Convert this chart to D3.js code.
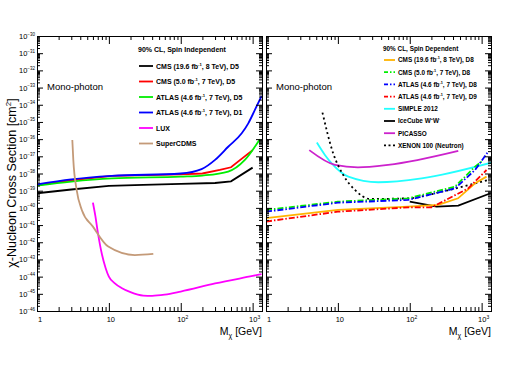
<!DOCTYPE html>
<html><head><meta charset="utf-8">
<script src="https://cdn.jsdelivr.net/npm/d3@7"></script>
<style>body{margin:0;background:#fff}svg{display:block}text{font-family:"Liberation Sans",Arial,sans-serif}</style>
</head><body><div id="c"></div>
<script>
// ---------- data ----------
// Left panel: spin independent
const siCMS196_m = [1, 3, 10, 30, 100, 300, 500, 1000];
const siCMS196_s = [7.1e-40, 1.17e-39, 1.9e-39, 2.2e-39, 2.5e-39, 2.8e-39, 3.5e-39, 2.2e-38];
const siCMS50_m = [1, 3, 11, 100, 200, 350, 500, 1000];
const siCMS50_s = [2.1e-39, 4.0e-39, 7.2e-39, 8.9e-39, 1.0e-38, 1.6e-38, 2.3e-38, 2.3e-37];
const siATLASD5_m = [1, 3, 11, 100, 200, 457, 780, 1260];
const siATLASD5_s = [2.0e-39, 3.4e-39, 5.2e-39, 6.6e-39, 7.6e-39, 1.3e-38, 6.2e-38, 9.8e-37];
const siATLASD1_m = [1, 3, 11, 100, 195, 300, 457, 705, 870, 1075, 1330];
const siATLASD1_s = [2.3e-39, 4.5e-39, 7.2e-39, 1.0e-38, 1.8e-38, 6.2e-38, 3.6e-37, 2.2e-36, 8.3e-36, 5.0e-35, 3.2e-34];
const siLUX_m = [6, 6.5, 7, 8, 9, 10, 12, 15, 20, 30, 40, 60, 100, 300, 1000, 1330];
const siLUX_s = [2.0e-40, 3.2e-41, 4.0e-42, 2.0e-43, 3.2e-44, 1.0e-44, 4.2e-45, 2.2e-45, 1.26e-45, 7.9e-46, 7.6e-46, 8.9e-46, 1.35e-45, 4.0e-45, 1.1e-44, 1.4e-44];
const siCDMS_m = [3.1, 3.2, 3.56, 4.2, 6.0, 9.8, 23, 41.5];
const siCDMS_s = [8.9e-37, 6.2e-38, 1.1e-39, 7.6e-41, 8.1e-42, 5.6e-43, 1.8e-43, 2.1e-43];
// Right panel: spin dependent
const sdCMS196_m = [1, 10, 95, 250, 470, 810, 1170];
const sdCMS196_s = [2.5e-41, 7.6e-41, 1.17e-40, 1.5e-40, 3.6e-40, 2.7e-39, 6.6e-39];
const sdCMS50_m = [1, 10, 95, 425, 810, 1000];
const sdCMS50_s = [7.6e-41, 2.3e-40, 3.6e-40, 1.7e-39, 2.5e-38, 5.0e-38];
const sdATLASD8_m = [1, 10, 95, 425, 810, 1230];
const sdATLASD8_s = [6.0e-41, 2.0e-40, 2.9e-40, 1.35e-39, 1.6e-38, 1.86e-37];
const sdATLASD9_m = [1, 10, 95, 200, 650, 1170];
const sdATLASD9_s = [1.6e-41, 6.0e-41, 1.07e-40, 1.07e-40, 1.35e-39, 1.6e-38];
const sdSIMPLE_m = [5.1, 6.6, 8.2, 14, 36.5, 146, 1380];
const sdSIMPLE_s = [6.3e-37, 1.2e-37, 3.9e-38, 6.6e-39, 3.1e-39, 5.2e-39, 4.3e-38];
const sdIceCube_m = [100, 237, 473, 1330];
const sdIceCube_s = [2.3e-40, 1.17e-40, 1.35e-40, 7.1e-40];
const sdPICASSO_m = [4.0, 9.1, 19, 50, 473];
const sdPICASSO_s = [2.3e-37, 3.2e-38, 2.3e-38, 3.2e-38, 2.1e-37];
const sdXENON_m = [6.1, 8.6, 11.9, 17.3, 28, 95, 278, 1230];
const sdXENON_s = [3.5e-35, 1.5e-37, 8.1e-39, 1.1e-39, 3.3e-40, 3.6e-40, 8.7e-40, 4.2e-39];

const xMajor = [1, 10, 100, 1000];
const xMajorLabels = [["1",""], ["10",""], ["10","2"], ["10","3"]];
const yExponents = d3.range(-46, -29);

// ---------- layout ----------
const W = 512, H = 368;
const yTop = 36, yBot = 311;
const panels = [{x0: 37, x1: 262}, {x0: 266, x1: 491}];
const xDomain = [1, 1350];
const y = d3.scaleLog().domain([1e-46, 1e-30]).range([yBot, yTop]);

const svg = d3.select("#c").append("svg").attr("width", W).attr("height", H);

const xScales = panels.map(p => d3.scaleLog().domain(xDomain).range([p.x0, p.x1]));

// minor ticks
const xMinor = [];
[1, 10, 100].forEach(d => { for (let k = 2; k <= 9; k++) xMinor.push(d * k); });
const yMajor = yExponents.map(e => Math.pow(10, e));
const yMinor = [];
yExponents.slice(0, -1).forEach(e => { for (let k = 2; k <= 9; k++) yMinor.push(k * Math.pow(10, e)); });

panels.forEach((p, i) => {
  const x = xScales[i];
  const g = svg.append("g");
  const clip = "clip" + i;
  svg.append("clipPath").attr("id", clip).append("rect")
    .attr("x", p.x0).attr("y", yTop).attr("width", p.x1 - p.x0).attr("height", yBot - yTop);
  p.g = g.append("g").attr("clip-path", `url(#${clip})`);
  const axes = g.append("g").attr("class", "axes");
  const mk = (axis, tr) => {
    const a = axes.append("g").attr("transform", tr).call(axis);
    a.select(".domain").remove();
    a.selectAll("text").remove();
    a.selectAll("line").attr("stroke", "#000").attr("stroke-width", 1);
  };
  mk(d3.axisBottom(x).tickValues(xMajor).tickSize(-8).tickFormat(""), `translate(0,${yBot})`);
  mk(d3.axisBottom(x).tickValues(xMinor).tickSize(-4).tickFormat(""), `translate(0,${yBot})`);
  mk(d3.axisTop(x).tickValues(xMajor).tickSize(-8).tickFormat(""), `translate(0,${yTop})`);
  mk(d3.axisTop(x).tickValues(xMinor).tickSize(-4).tickFormat(""), `translate(0,${yTop})`);
  mk(d3.axisLeft(y).tickValues(yMajor).tickSize(-6).tickFormat(""), `translate(${p.x0},0)`);
  mk(d3.axisLeft(y).tickValues(yMinor).tickSize(-3).tickFormat(""), `translate(${p.x0},0)`);
  mk(d3.axisRight(y).tickValues(yMajor).tickSize(-6).tickFormat(""), `translate(${p.x1},0)`);
  mk(d3.axisRight(y).tickValues(yMinor).tickSize(-3).tickFormat(""), `translate(${p.x1},0)`);
  g.append("rect").attr("x", p.x0 + 0.5).attr("y", yTop + 0.5)
    .attr("width", p.x1 - p.x0).attr("height", yBot - yTop)
    .attr("fill", "none").attr("stroke", "#000").attr("stroke-width", 1);

  // x labels
  xMajor.forEach((v, j) => {
    const t = g.append("text").attr("x", x(v) + (j === 0 ? 3 : 2)).attr("y", 322)
      .attr("text-anchor", "middle").attr("font-size", 7.5);
    t.append("tspan").text(xMajorLabels[j][0]);
    if (xMajorLabels[j][1]) t.append("tspan").attr("dy", -3.5).attr("font-size", 5).text(xMajorLabels[j][1]);
  });
  const xt = g.append("text").attr("x", p.x1).attr("y", 335).attr("text-anchor", "end").attr("font-size", 10.5);
  xt.append("tspan").text("M");
  xt.append("tspan").attr("dy", 3).attr("font-size", 7).text("χ");
  xt.append("tspan").attr("dy", -3).text(" [GeV]");

  g.append("text").attr("x", p.x0 + 10).attr("y", 90).attr("font-size", 9.5).text("Mono-photon");
});

// y labels (left panel)
yExponents.forEach(e => {
  const t = svg.append("text").attr("x", 35).attr("y", y(Math.pow(10, e)) + 3)
    .attr("text-anchor", "end").attr("font-size", 7.5);
  t.append("tspan").text("10");
  t.append("tspan").attr("dy", -3.5).attr("font-size", 4.5).text(String(e).replace("-", "\u2212"));
});
const yt = svg.append("text").attr("transform", `translate(16,183) rotate(-90)`)
  .attr("text-anchor", "middle").attr("font-size", 12.5);
yt.append("tspan").text("χ-Nucleon Cross Section [cm");
yt.append("tspan").attr("dy", -5).attr("font-size", 8).text("2");
yt.append("tspan").attr("dy", 5).text("]");

// ---------- series ----------
const L = d3.curveLinear, M = d3.curveMonotoneX;
const leftSeries = [
  {m: siCMS196_m, s: siCMS196_s, c: "#000000", d: null, curve: L},
  {m: siCMS50_m, s: siCMS50_s, c: "#ff0000", d: null, curve: L},
  {m: siATLASD5_m, s: siATLASD5_s, c: "#00ee00", d: null, curve: M},
  {m: siATLASD1_m, s: siATLASD1_s, c: "#0000ff", d: null, curve: M},
  {m: siLUX_m, s: siLUX_s, c: "#ff00ff", d: null, curve: M},
  {m: siCDMS_m, s: siCDMS_s, c: "#c49a78", d: null, curve: M}
];
const rightSeries = [
  {m: sdSIMPLE_m, s: sdSIMPLE_s, c: "#22ffff", d: null, curve: M},
  {m: sdPICASSO_m, s: sdPICASSO_s, c: "#cc22cc", d: null, curve: M},
  {m: sdIceCube_m, s: sdIceCube_s, c: "#000000", d: null, curve: L},
  {m: sdXENON_m, s: sdXENON_s, c: "#000000", d: "2,3", curve: M},
  {m: sdCMS196_m, s: sdCMS196_s, c: "#ffb400", d: null, curve: L},
  {m: sdCMS50_m, s: sdCMS50_s, c: "#00ee00", d: "6,2,1.5,2", curve: L},
  {m: sdATLASD8_m, s: sdATLASD8_s, c: "#0000ff", d: "6,2,1.5,2", curve: L},
  {m: sdATLASD9_m, s: sdATLASD9_s, c: "#ff0000", d: "6,2,1.5,2", curve: L}
];
[leftSeries, rightSeries].forEach((set, i) => {
  const x = xScales[i];
  set.forEach(sr => {
    const pts = sr.m.map((m, k) => [m, sr.s[k]]);
    const line = d3.line().x(d => x(d[0])).y(d => y(d[1])).curve(sr.curve);
    panels[i].g.append("path").attr("d", line(pts)).attr("fill", "none")
      .attr("stroke", sr.c).attr("stroke-width", 1.8)
      .attr("stroke-dasharray", sr.d);
  });
});

// ---------- legends ----------
const legL = [
  {t: ["CMS (19.6 fb", "-1", ", 8 TeV), D5"], c: "#000000", d: null},
  {t: ["CMS (5.0 fb", "-1", ", 7 TeV), D5"], c: "#ff0000", d: null},
  {t: ["ATLAS (4.6 fb", "-1", ", 7 TeV), D5"], c: "#00ee00", d: null},
  {t: ["ATLAS (4.6 fb", "-1", ", 7 TeV), D1"], c: "#0000ff", d: null},
  {t: ["LUX"], c: "#ff00ff", d: null},
  {t: ["SuperCDMS"], c: "#c49a78", d: null}
];
const legR = [
  {t: ["CMS (19.6 fb", "-1", ", 8 TeV), D8"], c: "#ffb400", d: null},
  {t: ["CMS (5.0 fb", "-1", ", 7 TeV), D8"], c: "#00ee00", d: "4,2,1.5,2"},
  {t: ["ATLAS (4.6 fb", "-1", ", 7 TeV), D8"], c: "#0000ff", d: "4,2,1.5,2"},
  {t: ["ATLAS (4.6 fb", "-1", ", 7 TeV), D9"], c: "#ff0000", d: "4,2,1.5,2"},
  {t: ["SIMPLE 2012"], c: "#22ffff", d: null},
  {t: ["IceCube W", "+", "W", "-"], c: "#000000", d: null},
  {t: ["PICASSO"], c: "#cc22cc", d: null},
  {t: ["XENON 100 (Neutron)"], c: "#000000", d: "2,2.5"}
];
function legend(items, header, hx, hy, lx0, lx1, tx, y0, dy, fs) {
  const g = svg.append("g").attr("font-weight", "bold").attr("font-size", fs);
  g.append("text").attr("x", hx).attr("y", hy).text(header);
  items.forEach((it, k) => {
    const yy = y0 + k * dy;
    g.append("line").attr("x1", lx0).attr("x2", lx1).attr("y1", yy).attr("y2", yy)
      .attr("stroke", it.c).attr("stroke-width", 1.8).attr("stroke-dasharray", it.d);
    const t = g.append("text").attr("x", tx).attr("y", yy + fs * 0.36);
    it.t.forEach((s, j) => {
      if (j % 2 === 1) t.append("tspan").attr("dy", -3).attr("font-size", fs * 0.6).text(s);
      else t.append("tspan").attr("dy", j === 0 ? 0 : 3).text(s);
    });
  });
}
legend(legL, "90% CL, Spin Independent", 138, 52, 139, 153, 156, 66, 15.5, 7);
legend(legR, "90% CL, Spin Dependent", 383, 51, 384, 395, 398, 60, 12.2, 6.4);
</script></body></html>
